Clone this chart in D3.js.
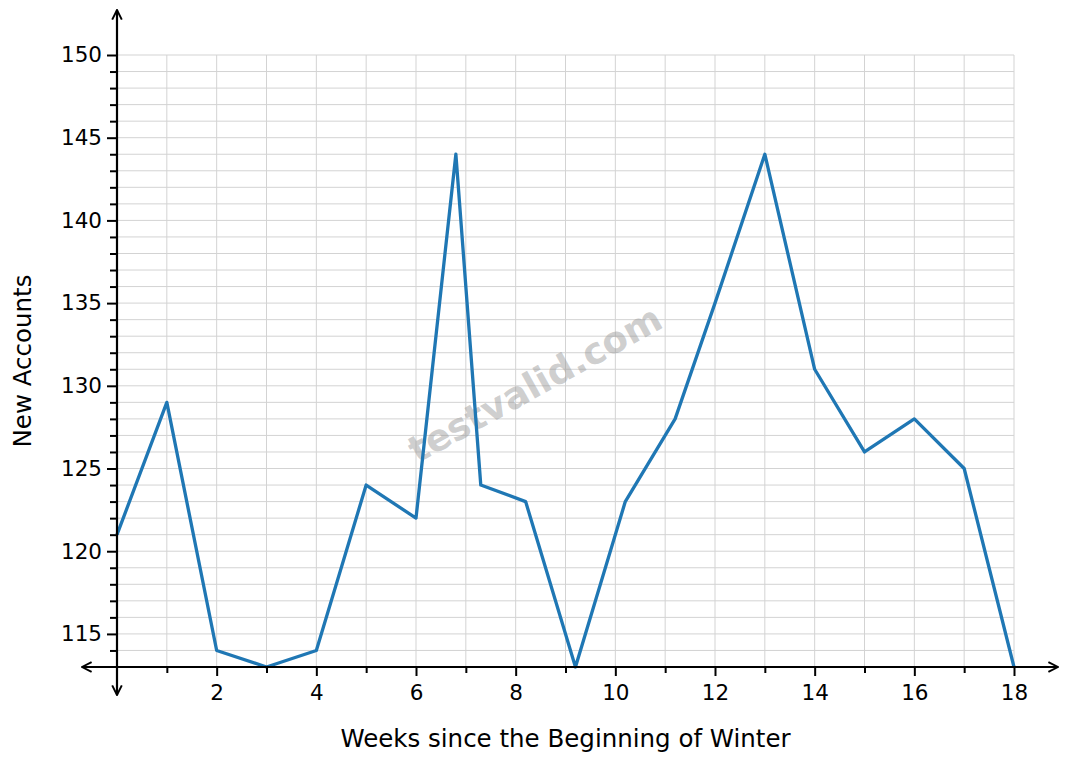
<!DOCTYPE html>
<html>
<head>
<meta charset="utf-8">
<script src="https://cdn.jsdelivr.net/npm/d3@7"></script>
<style>
  body { margin: 0; background: #fff; }
  svg { display: block; font-family: "DejaVu Sans", sans-serif; }
</style>
</head>
<body>
<div id="svg-container"></div>
<script>
// data
const weeks = [0, 1, 2, 3, 4, 5, 6, 6.8, 7.3, 8.2, 9.2, 10.2, 11.2, 12, 13, 14, 15, 16, 17, 18];
const accounts = [121, 129, 114, 113, 114, 124, 122, 144, 124, 123, 113, 123, 128, 135, 144, 131, 126, 128, 125, 113];
const xTickLabels = [2, 4, 6, 8, 10, 12, 14, 16, 18];
const yTickLabels = [115, 120, 125, 130, 135, 140, 145, 150];

const width = 1071;
const height = 762;
const margin = { top: 55, right: 57, bottom: 95, left: 117 };

const svg = d3.select("#svg-container").append("svg")
  .attr("width", width).attr("height", height);

// scales
const xScale = d3.scaleLinear().domain([0, 18]).range([margin.left, width - margin.right]);
const yScale = d3.scaleLinear().domain([113, 150]).range([height - margin.bottom, margin.top]);

// grid
const grid = svg.append("g").attr("stroke", "#d3d3d3").attr("stroke-width", 1);
grid.selectAll("line.v").data(d3.range(1, 19)).join("line")
  .attr("x1", (d) => xScale(d)).attr("x2", (d) => xScale(d))
  .attr("y1", yScale(150)).attr("y2", yScale(113));
grid.selectAll("line.h").data(d3.range(114, 151)).join("line")
  .attr("x1", xScale(0)).attr("x2", xScale(18))
  .attr("y1", (d) => yScale(d)).attr("y2", (d) => yScale(d));

// watermark (under the line)
svg.append("text")
  .attr("transform", `translate(536,386) rotate(-29)`)
  .attr("text-anchor", "middle")
  .attr("dominant-baseline", "middle")
  .attr("font-size", 37)
  .attr("font-weight", "bold")
  .attr("fill", "#999")
  .attr("fill-opacity", 0.48)
  .text("testvalid.com");

// line
const line = d3.line()
  .x((d, i) => xScale(weeks[i]))
  .y((d) => yScale(d));

svg.append("path")
  .datum(accounts)
  .attr("fill", "none")
  .attr("stroke", "#1f77b4")
  .attr("stroke-width", 3.3)
  .attr("stroke-linejoin", "round")
  .attr("d", line);

// axes
const x0 = xScale(0);
const y0 = yScale(113);

const xAxis = d3.axisBottom(xScale)
  .tickValues(xTickLabels)
  .tickSize(9)
  .tickPadding(9)
  .tickSizeOuter(0);
const xMinor = d3.axisBottom(xScale)
  .tickValues(d3.range(1, 18, 2))
  .tickSize(6)
  .tickFormat("")
  .tickSizeOuter(0);
const yAxis = d3.axisLeft(yScale)
  .tickValues(yTickLabels)
  .tickSize(10)
  .tickPadding(5)
  .tickSizeOuter(0);
const yMinor = d3.axisLeft(yScale)
  .tickValues(d3.range(114, 151).filter((d) => d % 5 !== 0))
  .tickSize(7)
  .tickFormat("")
  .tickSizeOuter(0);

[["x", xAxis], ["x", xMinor], ["y", yAxis], ["y", yMinor]].forEach(([k, ax]) => {
  const g = svg.append("g")
    .attr("transform", k === "x" ? `translate(0,${y0})` : `translate(${x0},0)`)
    .call(ax);
  g.select(".domain").remove();
  g.selectAll(".tick line").attr("stroke", "#000").attr("stroke-width", 2);
  g.selectAll(".tick text")
    .attr("font-family", "DejaVu Sans, sans-serif")
    .attr("font-size", 21.5)
    .attr("fill", "#000");
});

// axis lines with arrows
svg.append("defs").append("marker")
  .attr("id", "arrow")
  .attr("viewBox", "0 0 10 10")
  .attr("refX", 9).attr("refY", 5)
  .attr("markerWidth", 12).attr("markerHeight", 12)
  .attr("markerUnits", "userSpaceOnUse")
  .attr("orient", "auto-start-reverse")
  .append("path")
  .attr("d", "M1,1 L9,5 L1,9")
  .attr("fill", "none")
  .attr("stroke", "#000")
  .attr("stroke-width", 1.6);

svg.append("line")
  .attr("x1", 82).attr("x2", 1058)
  .attr("y1", y0).attr("y2", y0)
  .attr("stroke", "#000").attr("stroke-width", 2.2)
  .attr("marker-start", "url(#arrow)")
  .attr("marker-end", "url(#arrow)");

svg.append("line")
  .attr("x1", x0).attr("x2", x0)
  .attr("y1", 695).attr("y2", 10)
  .attr("stroke", "#000").attr("stroke-width", 2.2)
  .attr("marker-start", "url(#arrow)")
  .attr("marker-end", "url(#arrow)");

// axis titles
svg.append("text")
  .attr("x", (xScale(0) + xScale(18)) / 2)
  .attr("y", 747)
  .attr("text-anchor", "middle")
  .attr("font-size", 24.5)
  .attr("fill", "#000")
  .text("Weeks since the Beginning of Winter");

svg.append("text")
  .attr("transform", `translate(31,${(yScale(150) + yScale(113)) / 2}) rotate(-90)`)
  .attr("text-anchor", "middle")
  .attr("font-size", 24.5)
  .attr("fill", "#000")
  .text("New Accounts");
</script>
</body>
</html>
